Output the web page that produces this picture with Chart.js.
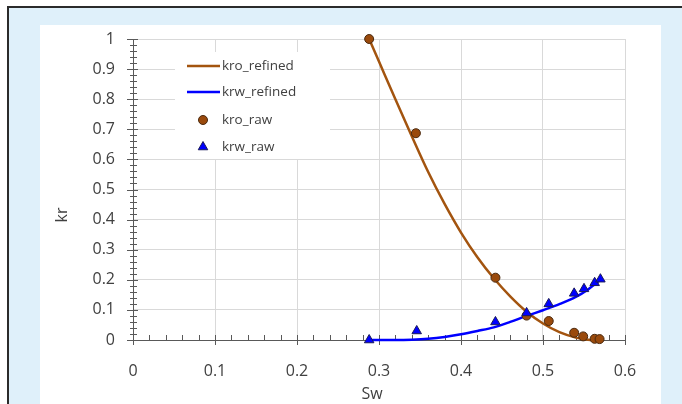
<!DOCTYPE html>
<html>
<head>
<meta charset="utf-8">
<script src="https://cdn.jsdelivr.net/npm/chart.js@4"></script>
<style>
  html, body { margin: 0; padding: 0; background: #fff; }
  body { width: 682px; height: 404px; position: relative; overflow: hidden; }
  .frame { position: absolute; left: 7px; top: 6px; width: 700px; height: 420px;
           border-left: 2px solid #2b2b2b; border-top: 2px solid #2b2b2b; background: #dff0fa; }
  .panel { position: absolute; left: 40px; top: 25px; width: 621px; height: 400px; background: #fff; }
  #wrap { position: absolute; left: 0; top: 0; width: 682px; height: 404px; }
</style>
</head>
<body>
<div class="frame"></div>
<div class="panel"></div>
<div id="wrap"><canvas id="krChart"></canvas></div>
<script>
// refined curves
const swKroRefined = [0.288, 0.30, 0.32, 0.34, 0.36, 0.38, 0.40, 0.42, 0.44, 0.46, 0.48, 0.50, 0.52, 0.54, 0.555, 0.565];
const kroRefined = [1.0, 0.925, 0.80, 0.677, 0.558, 0.452, 0.357, 0.275, 0.205, 0.145, 0.094, 0.055, 0.026, 0.008, 0.001, 0.0];
const swKrwRefined = [0.288, 0.32, 0.34, 0.36, 0.38, 0.40, 0.42, 0.44, 0.46, 0.48, 0.50, 0.52, 0.54, 0.555, 0.57];
const krwRefined = [0, 0, 0.001, 0.004, 0.01, 0.019, 0.03, 0.042, 0.06, 0.08, 0.099, 0.119, 0.143, 0.168, 0.2];

// raw measurements
const swKroRaw = [0.288, 0.345, 0.442, 0.480, 0.507, 0.538, 0.549, 0.563, 0.569];
const kroRaw = [1.0, 0.687, 0.207, 0.081, 0.063, 0.024, 0.012, 0.004, 0.003];
const swKrwRaw = [0.288, 0.346, 0.442, 0.480, 0.507, 0.538, 0.550, 0.563, 0.570];
const krwRaw = [0.0, 0.03, 0.06, 0.09, 0.12, 0.155, 0.17, 0.19, 0.202];

const seriesLabels = ['kro_refined', 'krw_refined', 'kro_raw', 'krw_raw'];
const xTitle = 'Sw';
const yTitle = 'kr';

const toXY = (xs, ys) => xs.map((x, i) => ({ x: x, y: ys[i] }));

const brown = '#a3540f';
const blue = '#0000ff';
const textCol = '#404040';
const FONT = '"Open Sans", sans-serif';

// minor ticks, axis-crossing major ticks, legend box and axis titles
const decor = {
  id: 'decor',
  beforeDatasetsDraw(chart) {
    const ctx = chart.ctx;
    const xs = chart.scales.x, ys = chart.scales.y;
    const x0 = xs.getPixelForValue(0), y0 = ys.getPixelForValue(0);
    ctx.save();
    ctx.strokeStyle = '#595959';
    ctx.lineWidth = 1;
    ctx.beginPath();
    for (let i = 0; i <= 50; i++) {
      const py = Math.round(ys.getPixelForValue(i * 0.02)) + 0.5;
      const major = i % 5 === 0;
      ctx.moveTo(x0 - (major ? 6 : 3), py);
      ctx.lineTo(x0 + (major ? 5 : 4), py);
    }
    for (let i = 0; i <= 30; i++) {
      const px = Math.round(xs.getPixelForValue(i * 0.02)) + 0.5;
      const major = i % 5 === 0;
      ctx.moveTo(px, y0 - 5);
      ctx.lineTo(px, y0 + (major ? 5 : 0));
    }
    ctx.stroke();

    // legend background hides the grid
    ctx.fillStyle = '#fff';
    ctx.fillRect(175, 52, 155, 107);
    ctx.restore();
  },
  afterDraw(chart) {
    const ctx = chart.ctx;
    ctx.save();
    const rows = [66, 92, 120, 147];
    ctx.font = '13.5px ' + FONT;
    ctx.textBaseline = 'middle';
    chart.data.datasets.forEach((ds, i) => {
      const y = rows[i];
      if (ds.showLine) {
        ctx.strokeStyle = ds.borderColor;
        ctx.lineWidth = ds.borderWidth;
        ctx.beginPath();
        ctx.moveTo(187, y);
        ctx.lineTo(220, y);
        ctx.stroke();
      } else {
        ctx.fillStyle = ds.pointBackgroundColor;
        ctx.strokeStyle = ds.pointBorderColor;
        ctx.lineWidth = ds.pointBorderWidth;
        Chart.helpers.drawPoint(ctx, {
          pointStyle: ds.pointStyle, radius: ds.pointRadius,
          borderWidth: ds.pointBorderWidth, rotation: 0
        }, 203, y);
      }
      ctx.fillStyle = textCol;
      ctx.fillText(ds.label, 222, y);
    });

    // axis titles
    ctx.font = '16px ' + FONT;
    ctx.textAlign = 'center';
    ctx.fillText(xTitle, 372, 394);
    ctx.translate(62, 215);
    ctx.rotate(-Math.PI / 2);
    ctx.fillText(yTitle, 0, 0);
    ctx.restore();
  }
};

new Chart(document.getElementById('krChart').getContext('2d'), {
  type: 'scatter',
  data: {
    datasets: [
      {
        label: seriesLabels[0], data: toXY(swKroRefined, kroRefined), showLine: true,
        borderColor: brown, borderWidth: 2.5, pointRadius: 0, cubicInterpolationMode: 'monotone',
        order: 4, clip: false
      },
      {
        label: seriesLabels[1], data: toXY(swKrwRefined, krwRefined), showLine: true,
        borderColor: blue, borderWidth: 2.5, pointRadius: 0, cubicInterpolationMode: 'monotone',
        order: 3, clip: false
      },
      {
        label: seriesLabels[2], data: toXY(swKroRaw, kroRaw), showLine: false,
        pointStyle: 'circle', pointRadius: 4.5, pointBackgroundColor: '#9a4a0c',
        pointBorderColor: '#4a2a10', pointBorderWidth: 1, order: 2, clip: false
      },
      {
        label: seriesLabels[3], data: toXY(swKrwRaw, krwRaw), showLine: false,
        pointStyle: 'triangle', pointRadius: 5.5, pointBackgroundColor: '#0000ff',
        pointBorderColor: '#1a1a5a', pointBorderWidth: 1, order: 1, clip: false
      }
    ]
  },
  options: {
    responsive: true,
    maintainAspectRatio: false,
    animation: false,
    layout: { padding: { left: 40, right: 57, top: 39, bottom: 0 } },
    plugins: { legend: { display: false }, tooltip: { enabled: false } },
    scales: {
      x: {
        type: 'linear', min: 0, max: 0.6,
        afterFit: (s) => { s.height = 64; },
        grid: { color: '#d9d9d9', drawTicks: false },
        border: { color: '#595959', width: 1 },
        ticks: { stepSize: 0.1, padding: 22, color: textCol, font: { family: FONT, size: 16 },
                 callback: (v) => Math.round(v * 10) / 10 }
      },
      y: {
        type: 'linear', min: 0, max: 1,
        afterFit: (s) => { s.width = 93; },
        grid: { color: '#d9d9d9', drawTicks: false },
        border: { color: '#595959', width: 1 },
        ticks: { stepSize: 0.1, padding: 18, color: textCol, font: { family: FONT, size: 16 },
                 callback: (v) => Math.round(v * 10) / 10 }
      }
    }
  },
  plugins: [decor]
});
</script>
</body>
</html>
